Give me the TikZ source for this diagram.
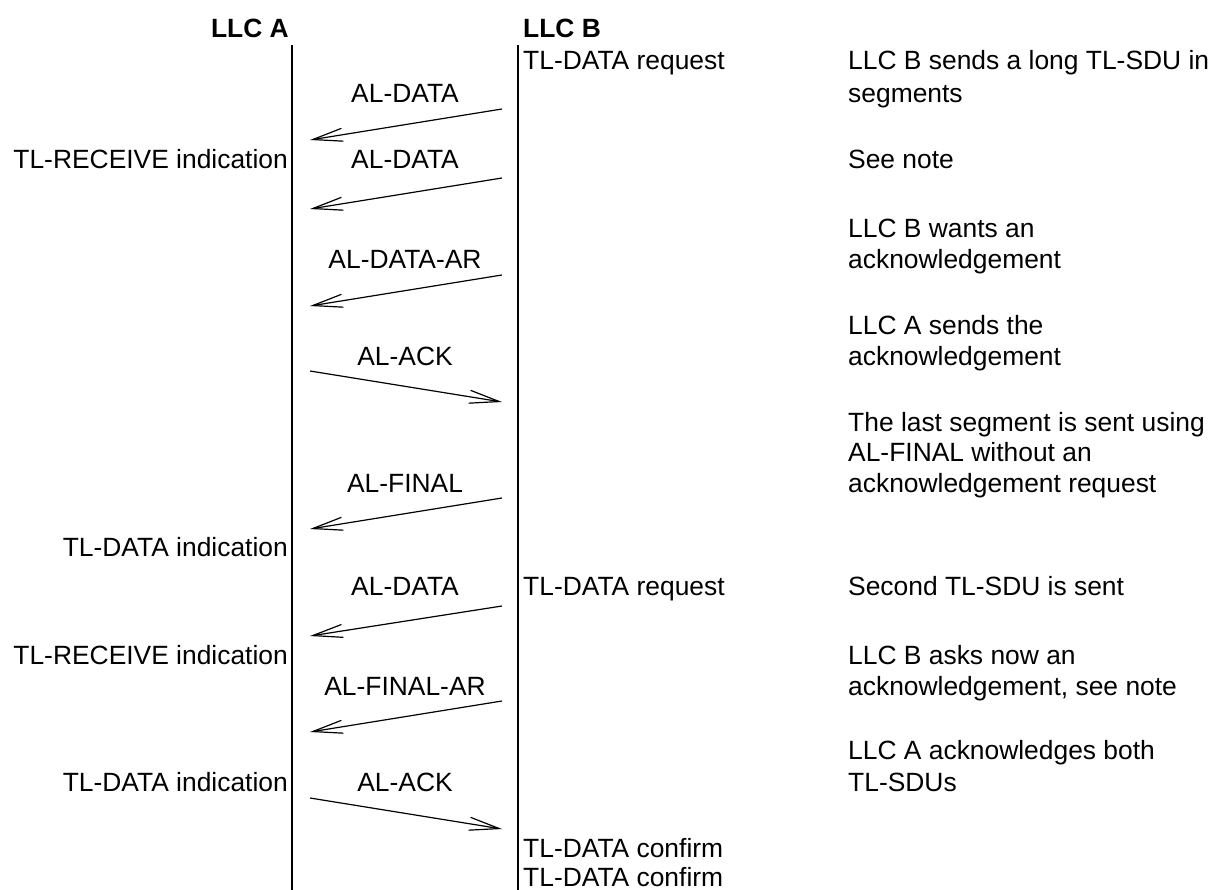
\documentclass[tikz,border=0pt]{standalone}
\usepackage{fontspec}
\setmainfont{Liberation Sans}
\usetikzlibrary{arrows.meta}
\begin{document}
\begin{tikzpicture}[x=1pt,y=-1pt,
  txt/.style={inner sep=0pt, font=\fontsize{26.4}{30}\selectfont},
  albl/.style={txt, anchor=base},
  lft/.style={txt, anchor=base east},
  rgt/.style={txt, anchor=base west},
  hdr/.style={inner sep=0pt, font=\fontsize{26.4}{30}\selectfont\bfseries},
  life/.style={line width=2pt},
  msg/.style={line width=1.2pt, -{Straight Barb[length=30pt,width=13pt,line width=1.2pt]}}]
\useasboundingbox (0,0) rectangle (1213,890);
% lifelines
\coordinate (Atop) at (292,45); \coordinate (Abot) at (292,890);
\coordinate (Btop) at (518,45); \coordinate (Bbot) at (518,890);
\draw[life] (Atop) -- (Abot);
\draw[life] (Btop) -- (Bbot);
% headers
\node[hdr, anchor=base east] (hA) at (289,37.5) {LLC A};
\node[hdr, anchor=base west] (hB) at (523,37.5) {LLC B};
% B-side primitives
\node[rgt] (req1) at (523,69.5) {TL-DATA request};
\node[rgt] (req2) at (523,595.5) {TL-DATA request};
\node[rgt] (conf1) at (523,857.5) {TL-DATA confirm};
\node[rgt] (conf2) at (523,886.5) {TL-DATA confirm};
% A-side primitives
\node[lft] (rec1) at (288,168.5) {TL-RECEIVE indication};
\node[lft] (ind1) at (288,556.5) {TL-DATA indication};
\node[lft] (rec2) at (288,664.5) {TL-RECEIVE indication};
\node[lft] (ind2) at (288,791.5) {TL-DATA indication};
% message labels
\node[albl] (m1) at (405,102.5) {AL-DATA};
\node[albl] (m2) at (405,168.5) {AL-DATA};
\node[albl] (m3) at (405,268.5) {AL-DATA-AR};
\node[albl] (m4) at (405,365.5) {AL-ACK};
\node[albl] (m5) at (405,492.5) {AL-FINAL};
\node[albl] (m6) at (405,595.5) {AL-DATA};
\node[albl] (m7) at (405,695.5) {AL-FINAL-AR};
\node[albl] (m8) at (405,791.5) {AL-ACK};
% comments
\node[rgt] (c1a) at (848,69.5) {LLC B sends a long TL-SDU in};
\node[rgt] (c1b) at (848,102.5) {segments};
\node[rgt] (c2) at (848,168.5) {See note};
\node[rgt] (c3a) at (848,237.5) {LLC B wants an};
\node[rgt] (c3b) at (848,268.5) {acknowledgement};
\node[rgt] (c4a) at (848,334.5) {LLC A sends the};
\node[rgt] (c4b) at (848,365.5) {acknowledgement};
\node[rgt] (c5a) at (848,431.5) {The last segment is sent using};
\node[rgt] (c5b) at (848,461.5) {AL-FINAL without an};
\node[rgt] (c5c) at (848,492.5) {acknowledgement request};
\node[rgt] (c6) at (848,595.5) {Second TL-SDU is sent};
\node[rgt] (c7a) at (848,664.5) {LLC B asks now an};
\node[rgt] (c7b) at (848,695.5) {acknowledgement, see note};
\node[rgt] (c8a) at (848,759.5) {LLC A acknowledges both};
\node[rgt] (c8b) at (848,791.5) {TL-SDUs};
% arrow end points
\coordinate (s1) at (502,109); \coordinate (e1) at (310,140);
\coordinate (s2) at (502,178); \coordinate (e2) at (310,209);
\coordinate (s3) at (502,275); \coordinate (e3) at (310,306);
\coordinate (s4) at (310,371); \coordinate (e4) at (502,402);
\coordinate (s5) at (502,498); \coordinate (e5) at (310,529);
\coordinate (s6) at (502,606); \coordinate (e6) at (310,636);
\coordinate (s7) at (502,701); \coordinate (e7) at (310,732);
\coordinate (s8) at (310,798); \coordinate (e8) at (502,829);
\foreach \i in {1,...,8} {\draw[msg] (s\i) -- (e\i);}
\end{tikzpicture}
\end{document}
